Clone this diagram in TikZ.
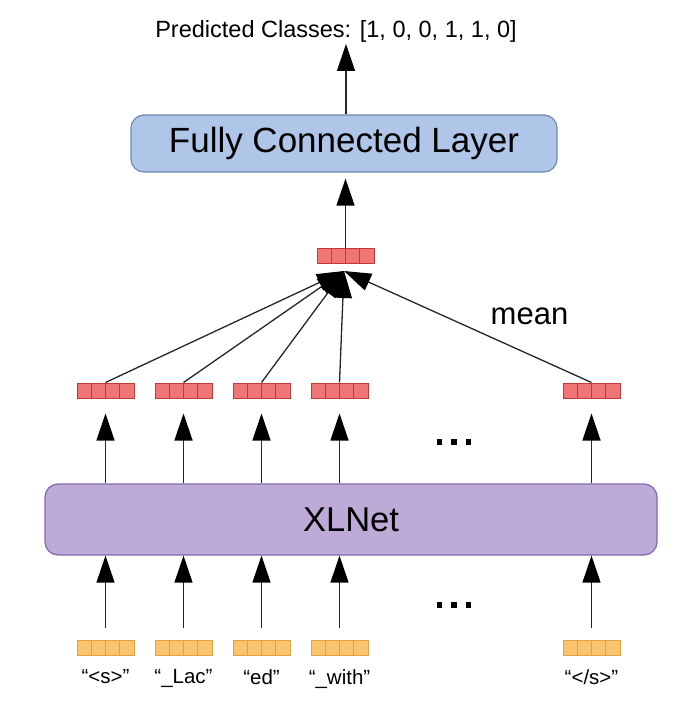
\documentclass[tikz,border=0pt]{standalone}
\usepackage{fontspec}
\setmainfont{Liberation Sans}
\usetikzlibrary{arrows.meta,positioning}

\definecolor{fcfill}{HTML}{AFC6E9}
\definecolor{fcborder}{HTML}{6F89B4}
\definecolor{encfill}{HTML}{BDAAD6}
\definecolor{encborder}{HTML}{8767B0}
\definecolor{hidfill}{HTML}{F07575}
\definecolor{hidborder}{HTML}{C4383A}
\definecolor{tokfill}{HTML}{F9C46F}
\definecolor{tokborder}{HTML}{E2A03E}

\tikzset{
  cellvec/.style={draw=#1, line width=1pt, minimum width=57pt, minimum height=15pt, inner sep=0pt,
    path picture={\foreach \k in {1,2,3}
      \draw[#1, line width=1pt] ([xshift=\k*14.25pt]path picture bounding box.south west)
        -- ([xshift=\k*14.25pt]path picture bounding box.north west);}},
  hvec/.style={cellvec=hidborder, fill=hidfill},
  tvec/.style={cellvec=tokborder, fill=tokfill},
  layerbox/.style={rounded corners=13pt, line width=1.2pt, inner sep=0pt},
  conn/.style={line width=1.3pt, draw=black!85, -{Triangle[length=27pt,width=18pt,black]}},
  toklabel/.style={font=\fontsize{20.5}{24}\selectfont, inner sep=0pt},
  dots/.style={inner sep=0pt}
}
\newcommand{\sqdots}{\rule{5.5pt}{5.5pt}\hspace{9pt}\rule{5.5pt}{5.5pt}\hspace{9pt}\rule{5.5pt}{5.5pt}}

\begin{document}
\begin{tikzpicture}[x=1pt,y=-1pt]
  \useasboundingbox (0,0) rectangle (700,703);

  % top part
  \node[font=\fontsize{23.5}{28}\selectfont, inner sep=0pt] (pred) at (336,31) {Predicted Classes: [1, 0, 0, 1, 1, 0]};
  \node[layerbox, draw=fcborder, fill=fcfill, minimum width=426pt, minimum height=57pt,
    font=\fontsize{35}{40}\selectfont] (fc) at (344,143.5) {Fully Connected Layer};
  \node[hvec] (pool) at (345.5,256) {};
  \coordinate (mtip) at (344,271);
  \coordinate (ptip) at (346,44);
  \node[font=\fontsize{31}{36}\selectfont, inner sep=0pt] (mean) at (529.5,316) {mean};

  % encoder
  \node[layerbox, draw=encborder, fill=encfill, minimum width=612pt, minimum height=71pt,
    font=\fontsize{34.5}{40}\selectfont] (xlnet) at (351,519.5) {XLNet};

  \foreach \x/\n in {105.5/1,183.5/2,261.5/3,339.5/4,591.5/5} {
    \node[hvec] (h\n) at (\x,390.5) {};
    \node[tvec] (t\n) at (\x,647.5) {};
    \draw[conn, shorten <=12pt] (t\n.north) -- (t\n.north |- xlnet.south);
    \draw[conn, shorten >=15pt] (h\n.south |- xlnet.north) -- (h\n.south);
    \draw[conn] (h\n.north) -- (mtip);
  }

  \foreach \n/\txt in {1/{“<s>”},2/{“\_Lac”},3/{“ed”},4/{“\_with”},5/{“</s>”}}
    \node[toklabel, below=14pt of t\n] (l\n) {\txt};

  \node[dots] (dotsh) at (454,442) {\sqdots};
  \node[dots] (dotst) at (454,605) {\sqdots};

  \draw[conn, shorten >=6pt] (pool.north) -- (pool.north |- fc.south);
  \draw[conn] (fc.north -| ptip) -- (ptip);
\end{tikzpicture}
\end{document}
